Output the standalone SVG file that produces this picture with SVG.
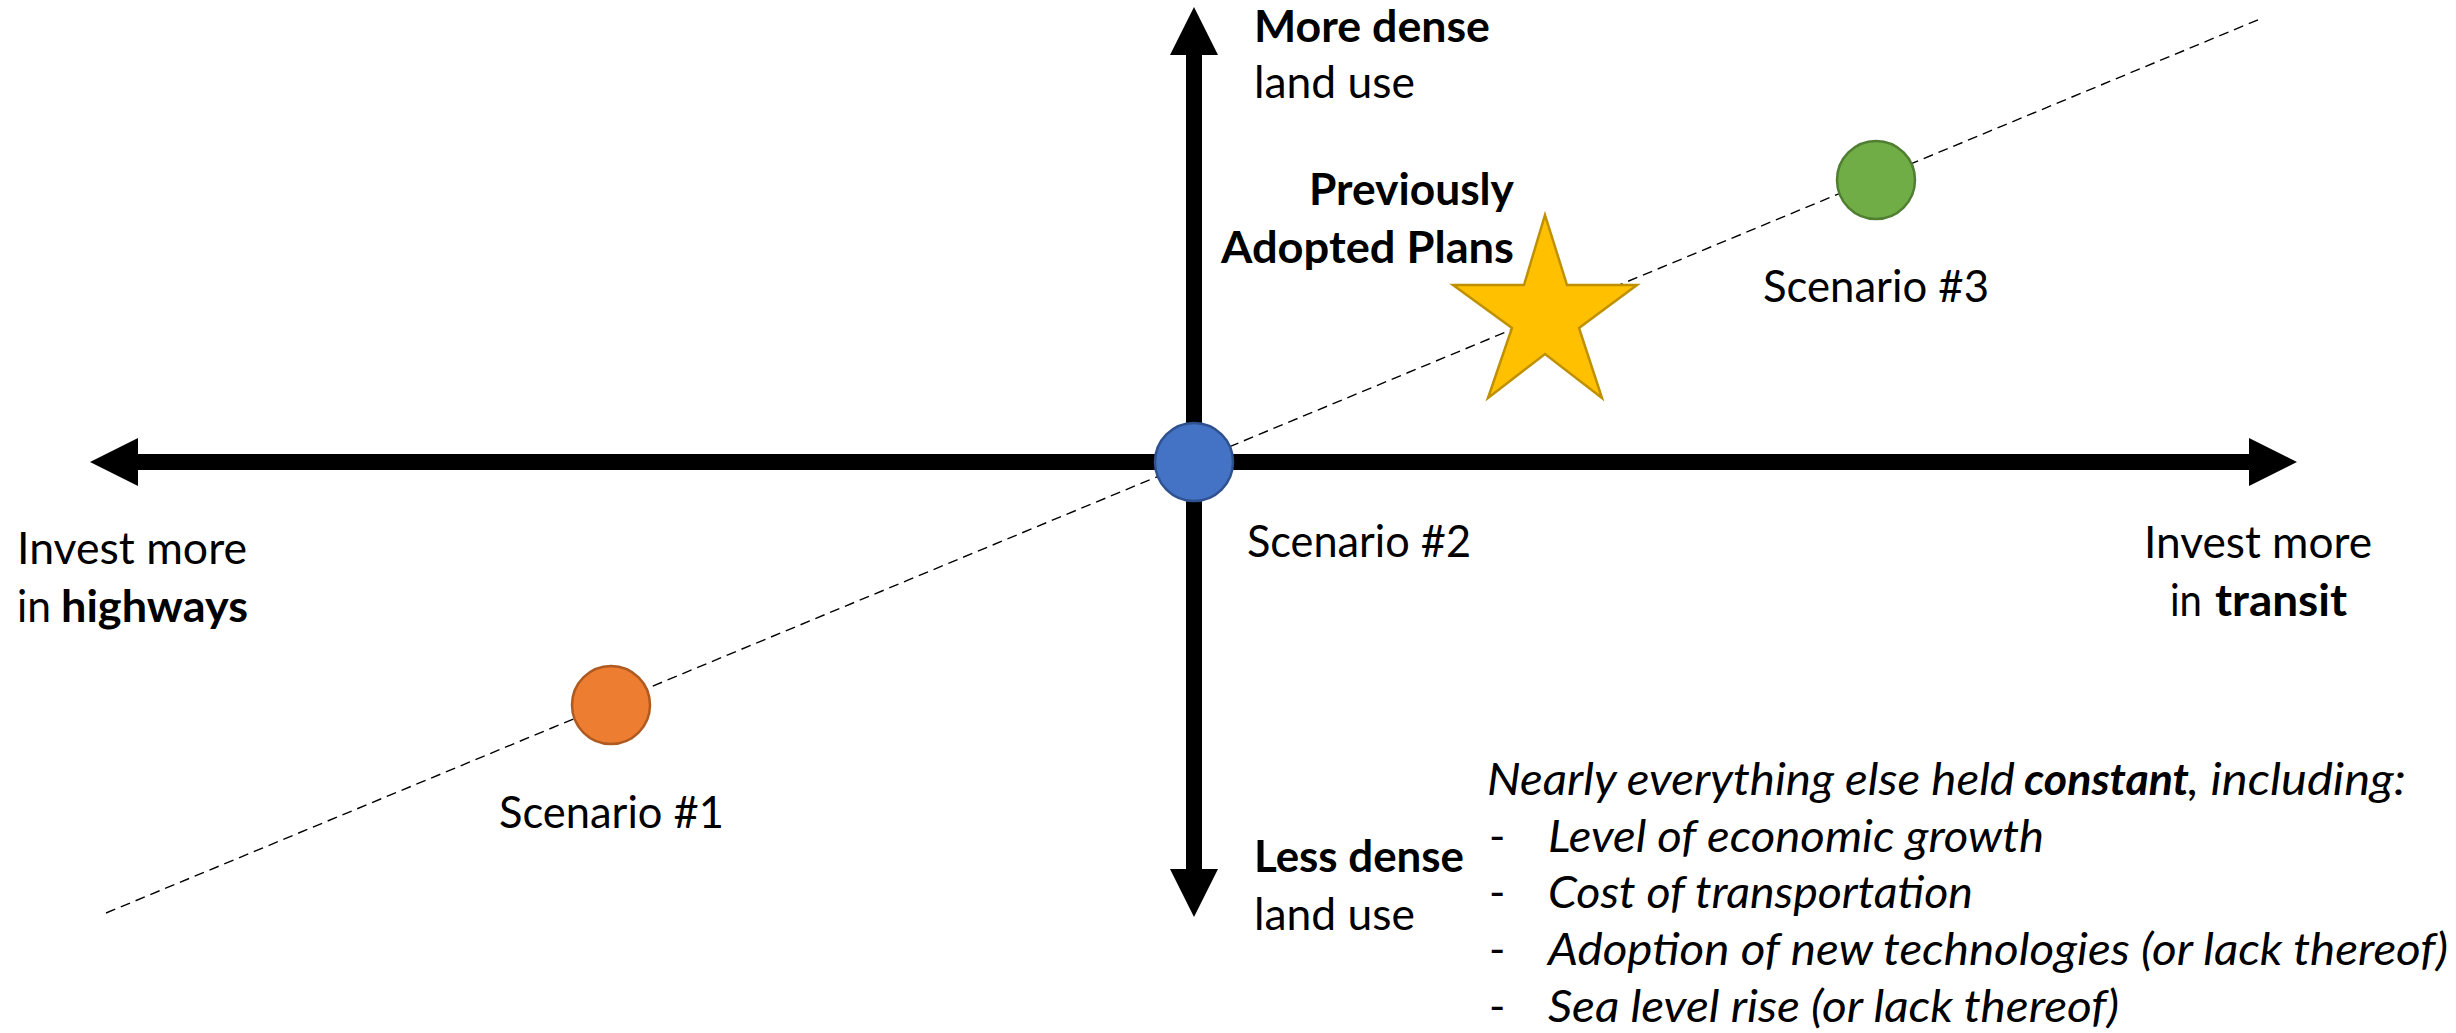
<svg xmlns="http://www.w3.org/2000/svg" width="2456" height="1033" viewBox="0 0 2456 1033">
<defs>
<marker id="head" markerUnits="userSpaceOnUse" markerWidth="48" markerHeight="48" viewBox="0 -24 48 48" refX="1" refY="0" orient="auto-start-reverse">
<path d="M0,-24 L48,0 L0,24 Z" fill="#000"/>
</marker>
</defs>
<style>
text{font-family:Lato,"Open Sans","Liberation Sans",sans-serif;font-size:44px;fill:#000}
.b{font-weight:bold}
.i{font-style:italic}
.axis{stroke:#000;stroke-width:16;fill:none;marker-start:url(#head);marker-end:url(#head)}
.trend{stroke:#000;stroke-width:1.4;stroke-dasharray:10 6;fill:none}
.dot{stroke-width:2.5}
</style>
<rect width="2456" height="1033" fill="#fff"/>
<g id="connectors">
<line class="trend" x1="106" y1="913" x2="2260" y2="19"/>
<line id="x-axis" class="axis" x1="137" y1="462" x2="2250" y2="462"/>
<line id="y-axis" class="axis" x1="1194" y1="54" x2="1194" y2="870"/>
</g>
<g id="axis-labels">
<text class="b" x="1254" y="42" textLength="236" lengthAdjust="spacingAndGlyphs">More dense</text>
<text x="1254" y="98" textLength="161" lengthAdjust="spacingAndGlyphs">land use</text>
<text class="b" x="1254" y="872" textLength="210" lengthAdjust="spacingAndGlyphs">Less dense</text>
<text x="1254" y="930" textLength="161" lengthAdjust="spacingAndGlyphs">land use</text>
<text x="17" y="564" textLength="230" lengthAdjust="spacingAndGlyphs">Invest more</text>
<text y="622"><tspan x="17" textLength="34" lengthAdjust="spacingAndGlyphs">in</tspan><tspan class="b" x="61" textLength="187" lengthAdjust="spacingAndGlyphs">highways</tspan></text>
<text x="2144" y="558" textLength="228" lengthAdjust="spacingAndGlyphs">Invest more</text>
<text y="616"><tspan x="2170" textLength="32" lengthAdjust="spacingAndGlyphs">in</tspan><tspan class="b" x="2215" textLength="132" lengthAdjust="spacingAndGlyphs">transit</tspan></text>
</g>
<g id="scenario-1">
<circle class="dot" cx="611" cy="705" r="39" fill="#ED7D31" stroke="#AE5A21"/>
<text x="499" y="828" textLength="225" lengthAdjust="spacingAndGlyphs">Scenario #1</text>
</g>
<g id="scenario-2">
<circle class="dot" cx="1194" cy="462" r="39" fill="#4472C4" stroke="#2F528F"/>
<text x="1247" y="557" textLength="224" lengthAdjust="spacingAndGlyphs">Scenario #2</text>
</g>
<g id="scenario-3">
<circle class="dot" cx="1876" cy="180" r="39" fill="#70AD47" stroke="#507E32"/>
<text x="1763" y="302" textLength="226" lengthAdjust="spacingAndGlyphs">Scenario #3</text>
</g>
<g id="previously-adopted">
<polygon points="1545,215 1567,285 1637,285 1579,328 1602,398 1545,354 1488,398 1512,328 1453,285 1524,285" fill="#FFC000" stroke="#BF9000" stroke-width="2.5" stroke-linejoin="miter"/>
<text class="b" x="1309" y="205" textLength="205" lengthAdjust="spacingAndGlyphs">Previously</text>
<text class="b" x="1221" y="263" textLength="293" lengthAdjust="spacingAndGlyphs">Adopted Plans</text>
</g>
<g id="assumptions">
<text class="i" y="795"><tspan x="1487" textLength="528" lengthAdjust="spacingAndGlyphs">Nearly everything else held</tspan><tspan class="b" x="2024" textLength="165" lengthAdjust="spacingAndGlyphs">constant</tspan><tspan x="2188" textLength="218" lengthAdjust="spacingAndGlyphs">, including:</tspan></text>
<text x="1489" y="852">-</text>
<text class="i" x="1548" y="852" textLength="496" lengthAdjust="spacingAndGlyphs">Level of economic growth</text>
<text x="1489" y="908">-</text>
<text class="i" x="1548" y="908" textLength="425" lengthAdjust="spacingAndGlyphs">Cost of transportation</text>
<text x="1489" y="965">-</text>
<text class="i" x="1548" y="965" textLength="900" lengthAdjust="spacingAndGlyphs">Adoption of new technologies (or lack thereof)</text>
<text x="1489" y="1022">-</text>
<text class="i" x="1548" y="1022" textLength="571" lengthAdjust="spacingAndGlyphs">Sea level rise (or lack thereof)</text>
</g>
</svg>
